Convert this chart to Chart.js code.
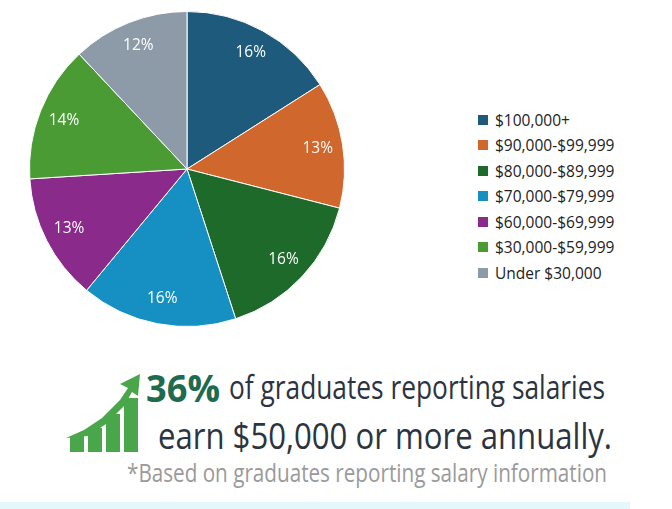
<!DOCTYPE html>
<html><head><meta charset="utf-8">
<script src="https://cdn.jsdelivr.net/npm/chart.js@4"></script>
<style>
body{margin:0;background:#fff;width:672px;height:509px;overflow:hidden;position:relative;font-family:"Open Sans",sans-serif}
#c{position:absolute;left:0;top:0}
#legend{position:absolute;left:478px;top:107px;font-family:"Open Sans",sans-serif;font-size:15.5px;color:#222}
#legend div{height:25.5px;display:flex;align-items:center}
#legend span.b{width:10px;height:10px;margin-right:7px;display:inline-block}
.t{position:absolute;white-space:nowrap;color:#2b3440;transform-origin:0 0}
</style></head><body>
<canvas id="c" width="374" height="338"></canvas>
<div id="legend"></div>
<svg style="position:absolute;left:64px;top:370px" width="80" height="82">
<polygon points="2,68 20,60 38,48 56,30 64,18 56,14 76,4 74,26 68,22 60,36 42,54 24,66" fill="#4aa64a"/>
<rect x="6" y="66" width="14" height="16" fill="#4aa64a"/>
<rect x="24" y="58" width="14" height="24" fill="#4aa64a"/>
<rect x="42" y="44" width="14" height="38" fill="#4aa64a"/>
<rect x="60" y="28" width="14" height="54" fill="#4aa64a"/>
</svg>
<div class="t" data-w="74" style="left:146px;top:361px;font-size:38px;font-weight:bold;color:#1f6b4e">36%</div>
<div class="t" data-w="376" style="left:229px;top:364px;font-size:33px">of graduates reporting salaries</div>
<div class="t" data-w="454" style="left:158px;top:409px;font-size:37px">earn $50,000 or more annually.</div>
<div class="t" data-w="480" style="left:127px;top:455px;font-size:25px;color:#9a9a9a">*Based on graduates reporting salary information</div>
<div style="position:absolute;left:0;top:502px;width:630px;height:7px;background:#e4f8fb"></div>
<script>
document.querySelectorAll('.t').forEach(e=>{const w=e.getBoundingClientRect().width;e.style.transform='scaleX('+(+e.dataset.w/w)+')';});
const categories=["$100,000+","$90,000-$99,999","$80,000-$89,999","$70,000-$79,999","$60,000-$69,999","$30,000-$59,999","Under $30,000"];
const values=[16,13,16,16,13,14,12];
const colors=["#1d5a7c","#d0672c","#1d6a2b","#168fc2","#8a2a8b","#4b9b34","#8d9ba8"];
const lg=document.getElementById('legend');
categories.forEach((c,i)=>{const d=document.createElement('div');d.innerHTML='<span class="b" style="background:'+colors[i]+'"></span>'+c;lg.appendChild(d);});
const labelPlugin={id:'lbl',afterDatasetsDraw(ch){const ctx=ch.ctx;const meta=ch.getDatasetMeta(0);ctx.save();ctx.fillStyle='#fff';ctx.font='15.5px "Open Sans",sans-serif';ctx.textAlign='center';ctx.textBaseline='middle';
meta.data.forEach((a,i)=>{const m=(a.startAngle+a.endAngle)/2;const r=a.outerRadius*0.84;ctx.fillText(values[i]+'%',a.x+Math.cos(m)*r,a.y+Math.sin(m)*r);});ctx.restore();}};
new Chart(document.getElementById('c'),{type:'pie',data:{labels:categories,datasets:[{data:values,backgroundColor:colors,borderColor:'#fff',borderWidth:1}]},
options:{responsive:false,animation:false,layout:{padding:11},plugins:{legend:{display:false},tooltip:{enabled:false}}},plugins:[labelPlugin]});
</script></body></html>
